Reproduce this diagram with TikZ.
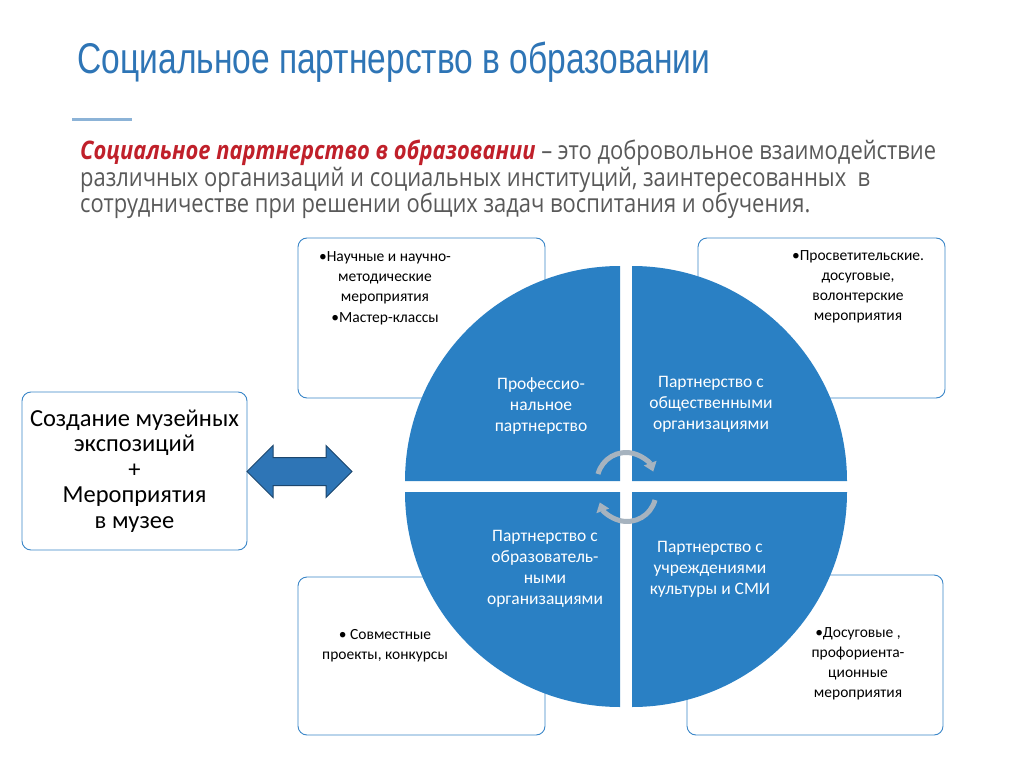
\documentclass[tikz,border=0pt]{standalone}
\usepackage{fontspec}
\setmainfont{Carlito}
\newfontfamily\titlefont[FakeStretch=0.78]{Liberation Sans}
\newfontfamily\bodyfont[FakeStretch=0.86]{Open Sans}
\usetikzlibrary{arrows.meta}
\definecolor{tblue}{HTML}{2E75B6}
\definecolor{qblue}{HTML}{2A80C4}
\definecolor{bline}{HTML}{3A86C8}
\definecolor{txtgray}{HTML}{595959}
\definecolor{defred}{HTML}{C0202A}
\tikzset{
  x=1pt, y=1pt,
  topicbox/.style={draw=bline, line width=0.9pt, rounded corners=9pt, fill=white},
  quarter/.style={fill=qblue},
  qtext/.style={text=white, font=\fontsize{17.5}{21}\selectfont, align=center},
  btext/.style={text=black, font=\fontsize{15.5}{20}\selectfont, align=center},
  cycarrow/.style={draw=white!70!tblue!60!gray, line width=5pt, -{Triangle[length=9pt,width=13pt]}},
}
\begin{document}
\begin{tikzpicture}
\useasboundingbox (0,0) rectangle (1024,-767);
\fill[white] (0,0) rectangle (1024,-767);
% title and definition
\node[anchor=west, text=tblue, font=\titlefont\fontsize{43}{48}\selectfont] (title) at (74,-62) {Социальное партнерство в образовании};
\draw[line width=3pt, color=tblue!55] (72,-120) -- (132,-120);
\node[anchor=north west, inner sep=0pt, text=txtgray, align=left, font=\bodyfont\fontsize{25.5}{26.5}\selectfont] (defn) at (80,-140)
  {{\bfseries\itshape\color{defred}Социальное партнерство в образовании} – это добровольное взаимодействие\\
   различных организаций и социальных институций, заинтересованных\ \ в\\
   сотрудничестве при решении общих задач воспитания и обучения.};
% outer boxes
\draw[topicbox] (298,-238) rectangle (545,-398);
\draw[topicbox] (698,-238) rectangle (945,-398);
\draw[topicbox] (298,-577) rectangle (545,-735);
\draw[topicbox] (687,-575) rectangle (943,-735);
\node[btext] (tl) at (385,-288) {•Научные и научно-\\методические\\мероприятия\\[1pt]•Мастер-классы};
\node[btext] (tr) at (858,-287) {•Просветительские.\\досуговые,\\волонтерские\\мероприятия};
\node[btext] (bl) at (385,-646) {• Совместные\\проекты, конкурсы};
\node[btext] (br) at (858,-664) {•Досуговые ,\\профориента-\\ционные\\мероприятия};
% circle of four quarters
\fill[quarter] (620,-481) -- ++(-215,0) arc[start angle=180, end angle=90, radius=215] -- cycle;
\fill[quarter] (632,-481) -- ++(0,215) arc[start angle=90, end angle=0, radius=215] -- cycle;
\fill[quarter] (620,-492) -- ++(0,-215) arc[start angle=270, end angle=180, radius=215] -- cycle;
\fill[quarter] (632,-492) -- ++(215,0) arc[start angle=0, end angle=-90, radius=215] -- cycle;
\node[qtext] (q1) at (541,-406) {Профессио-\\нальное\\партнерство};
\node[qtext] (q2) at (711,-404) {Партнерство с\\общественными\\организациями};
\node[qtext] (q3) at (545,-569) {Партнерство с\\образователь-\\ными\\организациями};
\node[qtext] (q4) at (710,-569) {Партнерство с\\учреждениями\\культуры и СМИ};
% cycle arrows
\draw[cycarrow] (598,-474) arc[start angle=165, end angle=20, radius=29];
\draw[cycarrow] (655,-500) arc[start angle=-15, end angle=-160, radius=29];
% museum box and double arrow
\draw[topicbox] (22,-392) rectangle (247,-550);
\node[text=black, align=center, font=\fontsize{24.5}{25.5}\selectfont] (museum) at (134.5,-471)
  {Создание музейных\\экспозиций\\+\\Мероприятия\\в музее};
\coordinate (link) at (299.5,-471.5);
\draw[draw=tblue!60!black, fill=tblue, line width=1pt]
  (link) ++(-52.5,0) -- ++(26,26) -- ++(0,-12) -- ++(53,0) -- ++(0,12) -- ++(26,-26)
  -- ++(-26,-26) -- ++(0,12) -- ++(-53,0) -- ++(0,-12) -- cycle;
\end{tikzpicture}
\end{document}
